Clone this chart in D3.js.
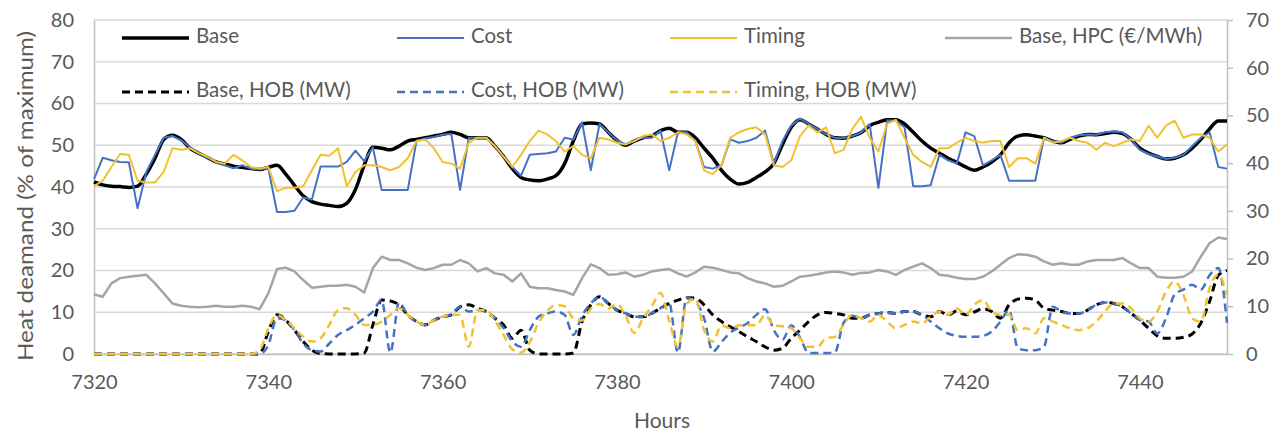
<!DOCTYPE html>
<html>
<head>
<meta charset="utf-8">
<script src="https://cdn.jsdelivr.net/npm/d3@7/dist/d3.min.js"></script>
<style>
	body { margin: 0; background: #fff; }
	text { font-family: Lato, "Open Sans", sans-serif; fill: #595959; }
</style>
</head>
<body>
<div id="chartDiv"></div>
<script>
// hours on the x axis (one value per hour, starting at firstHour)
var firstHour = 7320;
var xTicks = [7320, 7340, 7360, 7380, 7400, 7420, 7440];
var leftTicks = [0, 10, 20, 30, 40, 50, 60, 70, 80];
var rightTicks = [0, 10, 20, 30, 40, 50, 60, 70];

// heat demand, % of maximum (left axis)
var base = [41.2, 40.5, 40.2, 40.1, 39.9, 40.2, 43.1, 46.9, 51.4, 52.4,
	51.4, 49.3, 48.1, 47.1, 46.0, 45.5, 45.0, 44.7, 44.4, 44.2,
	44.7, 45.2, 43.1, 40.4, 37.9, 36.5, 35.9, 35.6, 35.3, 36.1,
	39.4, 45.2, 49.5, 49.3, 48.9, 49.8, 51.0, 51.4, 51.8, 52.2,
	52.6, 53.1, 52.6, 51.8, 51.8, 51.8, 49.8, 47.3, 44.4, 42.3,
	41.7, 41.5, 41.9, 42.7, 45.6, 51.0, 55.1, 55.3, 55.1, 53.1,
	51.2, 50.0, 51.0, 51.8, 52.2, 53.5, 54.1, 53.1, 53.1, 51.8,
	49.3, 46.9, 44.0, 41.9, 40.7, 41.1, 42.3, 43.6, 45.6, 50.2,
	54.3, 56.1, 55.1, 53.9, 52.6, 51.8, 51.7, 52.2, 53.0, 54.7,
	55.5, 56.1, 56.1, 55.1, 53.1, 51.0, 49.3, 48.1, 46.9, 45.9,
	44.8, 44.0, 44.8, 46.0, 47.7, 50.6, 52.2, 52.5, 52.2, 51.8,
	51.0, 50.6, 51.4, 52.2, 52.6, 52.5, 52.8, 53.1, 52.8, 51.4,
	49.3, 48.1, 47.3, 46.7, 46.9, 47.7, 49.3, 51.4, 53.9, 55.8, 55.8];
var cost = [41.9, 47.0, 46.4, 46.0, 45.9, 34.9, 43.6, 47.7, 51.8, 52.2,
	51.2, 49.5, 48.1, 47.0, 46.0, 45.2, 44.5, 45.2, 44.4, 44.2,
	44.5, 34.0, 34.0, 34.3, 37.5, 37.0, 44.9, 44.9, 44.9, 46.0,
	48.7, 46.2, 49.5, 39.3, 39.3, 39.3, 39.3, 51.0, 51.6, 52.0,
	52.5, 52.7, 39.3, 51.8, 51.8, 51.8, 49.8, 47.3, 44.8, 42.7,
	47.7, 47.9, 48.1, 48.5, 51.8, 51.4, 55.5, 44.0, 55.1, 53.1,
	51.2, 50.2, 51.2, 51.8, 51.8, 53.5, 44.0, 53.1, 53.1, 51.0,
	44.8, 44.4, 45.2, 51.4, 50.6, 51.0, 51.8, 53.5, 45.6, 51.0,
	54.7, 56.4, 55.1, 53.9, 52.6, 51.8, 51.7, 52.2, 53.0, 55.1,
	39.8, 55.9, 55.9, 54.3, 40.2, 40.2, 40.4, 47.7, 46.4, 45.6,
	53.1, 52.2, 45.2, 46.4, 47.7, 41.5, 41.5, 41.5, 41.5, 51.8,
	51.0, 50.6, 51.8, 52.4, 52.6, 52.5, 53.1, 53.3, 53.1, 51.4,
	48.9, 47.9, 47.3, 46.7, 47.0, 47.7, 49.8, 51.8, 53.1, 44.8, 44.4];
var timing = [40.2, 41.5, 44.8, 47.9, 47.7, 41.5, 41.1, 41.1, 43.6, 49.3,
	48.9, 49.3, 48.1, 47.3, 46.0, 45.6, 47.7, 46.4, 44.8, 44.4,
	44.8, 39.0, 39.8, 39.8, 40.2, 44.0, 47.7, 47.5, 49.3, 40.2,
	43.6, 45.2, 45.2, 44.8, 44.0, 44.8, 46.9, 51.0, 51.4, 49.3,
	46.0, 45.6, 44.4, 50.6, 51.8, 51.8, 49.8, 47.3, 44.8, 47.7,
	51.0, 53.5, 52.6, 51.0, 48.5, 49.8, 47.7, 46.9, 51.8, 51.4,
	50.6, 50.2, 51.0, 52.2, 52.6, 51.0, 51.8, 53.1, 52.6, 51.0,
	44.0, 43.1, 45.2, 51.8, 53.1, 53.9, 54.3, 52.6, 45.2, 44.8,
	46.4, 52.2, 54.7, 53.1, 54.3, 48.1, 48.9, 53.9, 56.8, 51.8,
	48.5, 55.1, 56.1, 51.8, 47.7, 46.0, 44.8, 49.3, 49.3, 50.6,
	51.8, 51.0, 50.6, 51.0, 51.0, 44.8, 46.9, 46.9, 45.6, 51.8,
	50.6, 51.0, 51.8, 51.0, 50.6, 48.9, 50.6, 49.8, 50.6, 51.4,
	51.0, 54.7, 51.8, 54.7, 55.9, 51.8, 52.6, 52.6, 51.8, 48.5, 50.2];

// heat production cost, EUR/MWh (right axis)
var baseHpc = [12.5, 12.0, 14.8, 15.9, 16.2, 16.4, 16.6, 14.8, 12.7, 10.6,
	10.1, 9.9, 9.8, 9.9, 10.1, 9.9, 9.9, 10.1, 9.9, 9.4,
	12.7, 17.8, 18.1, 17.3, 15.5, 13.9, 14.1, 14.3, 14.3, 14.5,
	14.1, 12.9, 18.0, 20.4, 19.7, 19.7, 19.0, 18.1, 17.6, 18.0,
	18.7, 18.7, 19.7, 19.0, 17.3, 18.0, 16.9, 16.6, 15.2, 16.9,
	14.1, 13.8, 13.8, 13.4, 13.1, 12.4, 15.9, 18.8, 18.0, 16.6,
	16.7, 17.1, 16.2, 16.6, 17.3, 17.6, 17.8, 16.9, 16.2, 17.1,
	18.3, 18.1, 17.6, 17.1, 16.9, 15.9, 15.2, 14.8, 14.1, 14.3,
	15.2, 16.2, 16.4, 16.7, 17.1, 17.3, 17.1, 16.6, 17.0, 17.1,
	17.6, 17.3, 16.6, 17.6, 18.3, 19.0, 18.0, 16.6, 16.4, 16.0,
	15.7, 15.7, 16.2, 17.3, 18.7, 20.1, 20.9, 20.8, 20.4, 19.4,
	18.7, 19.0, 18.7, 18.7, 19.4, 19.7, 19.7, 19.7, 20.1, 19.0,
	18.0, 18.0, 16.2, 16.0, 16.0, 16.2, 17.3, 20.4, 23.2, 24.4, 24.1];

// heat-only boiler output, MW (right axis)
var baseHob = [0, 0, 0, 0, 0, 0, 0, 0, 0, 0,
	0, 0, 0, 0, 0, 0, 0, 0, 0, 0,
	4.7, 8.2, 7.1, 5.0, 2.6, 0.8, 0.1, 0, 0, 0,
	0, 0.2, 6.1, 11.3, 11.1, 10.3, 8.2, 6.8, 6.1, 7.1,
	7.8, 8.2, 9.9, 10.3, 9.6, 8.9, 7.5, 6.1, 3.3, 5.0,
	0.8, 0, 0, 0, 0, 0.2, 6.8, 10.3, 12.0, 10.6,
	9.2, 8.5, 7.8, 7.8, 8.5, 9.6, 10.6, 11.3, 11.8, 11.7,
	10.3, 8.2, 6.8, 5.7, 4.7, 3.6, 2.6, 1.5, 0.8, 1.2,
	3.3, 5.0, 6.8, 8.2, 8.7, 8.5, 8.2, 7.5, 7.5, 8.2,
	8.5, 8.7, 8.5, 8.9, 8.9, 8.2, 7.8, 8.9, 8.2, 9.0,
	8.2, 8.8, 9.5, 8.9, 7.5, 10.3, 11.5, 11.7, 11.3, 9.6,
	9.2, 8.9, 8.5, 8.5, 9.2, 10.3, 10.8, 10.6, 9.9, 8.5,
	7.1, 5.4, 3.8, 3.3, 3.3, 3.5, 4.2, 6.5, 11.0, 16.5, 17.5];
var costHob = [0, 0, 0, 0, 0, 0, 0, 0, 0, 0,
	0, 0, 0, 0, 0, 0, 0, 0, 0, 0,
	1.9, 7.5, 7.1, 5.0, 2.2, 0.8, 0.5, 2.2, 4.0, 5.0,
	6.1, 7.5, 8.9, 11.3, 0.3, 10.8, 8.2, 6.8, 6.1, 7.1,
	7.8, 8.3, 9.9, 8.9, 9.2, 8.9, 7.5, 5.4, 2.6, 1.5,
	5.0, 7.8, 8.5, 8.9, 8.2, 4.0, 8.0, 10.6, 12.0, 10.6,
	9.2, 8.5, 7.8, 7.8, 8.5, 9.6, 10.6, 0.3, 11.8, 11.0,
	7.5, 0.5, 2.5, 4.5, 5.5, 6.5, 8.2, 9.4, 5.0, 3.0,
	6.0, 3.5, 0.2, 0.2, 0.2, 0.3, 6.5, 8.0, 7.5, 8.2,
	8.5, 8.7, 8.5, 8.9, 8.9, 8.2, 6.8, 5.4, 4.3, 3.8,
	3.6, 3.6, 3.8, 4.7, 6.8, 9.2, 1.2, 0.8, 0.8, 1.5,
	9.9, 8.9, 8.5, 8.5, 9.2, 10.3, 10.8, 10.6, 9.9, 8.5,
	7.1, 6.8, 4.3, 7.5, 12.5, 13.5, 14.5, 13.5, 16.5, 18.0, 6.5];
var timingHob = [0, 0, 0, 0, 0, 0, 0, 0, 0, 0,
	0, 0, 0, 0, 0, 0, 0, 0, 0, 0.8,
	5.4, 8.2, 7.1, 5.4, 3.6, 2.6, 3.3, 6.1, 9.2, 9.6,
	8.2, 6.1, 6.1, 6.8, 8.2, 9.6, 8.2, 6.8, 6.1, 7.1,
	7.8, 8.3, 8.2, 1.5, 9.2, 9.2, 7.0, 4.0, 1.0, 0.3,
	2.5, 6.5, 9.0, 10.3, 10.0, 7.5, 7.0, 9.5, 10.5, 9.5,
	10.5, 8.0, 4.4, 7.5, 10.0, 12.8, 7.0, 1.5, 10.5, 11.6,
	5.0, 2.6, 6.0, 5.4, 6.0, 6.0, 6.0, 8.2, 6.0, 5.8,
	5.4, 3.3, 1.5, 1.5, 3.3, 3.6, 6.1, 8.2, 7.5, 6.8,
	8.2, 6.8, 5.4, 6.1, 6.8, 6.4, 7.8, 8.9, 8.2, 9.6,
	8.2, 10.3, 11.3, 8.9, 8.2, 8.2, 5.0, 5.4, 4.3, 7.5,
	6.8, 6.1, 5.4, 5.0, 5.4, 6.8, 8.9, 10.6, 10.6, 9.6,
	7.5, 6.8, 8.9, 13.1, 15.2, 12.4, 7.5, 6.8, 13.8, 16.6, 12.4];

var width = 1276, height = 433;
var plotLeft = 94, plotRight = 1227, plotTop = 20, plotBottom = 354;

var lastHour = firstHour + base.length - 1;
var xScale = d3.scaleLinear().domain([firstHour, lastHour]).range([plotLeft, plotRight]);
var yLeft = d3.scaleLinear().domain([0, 80]).range([plotBottom, plotTop]);
var yRight = d3.scaleLinear().domain([0, 70]).range([plotBottom, plotTop]);

var svg = d3.select("#chartDiv").append("svg")
	.attr("width", width)
	.attr("height", height);

// gridlines (left axis)
svg.append("g")
	.selectAll("line")
	.data(leftTicks).enter().append("line")
	.attr("x1", plotLeft)
	.attr("x2", plotRight)
	.attr("y1", function (d) { return yLeft(d); })
	.attr("y2", function (d) { return yLeft(d); })
	.attr("stroke", "#d9d9d9")
	.attr("stroke-width", 1.5);

// left axis
var leftAxis = svg.append("g")
	.attr("transform", "translate(" + plotLeft + ",0)")
	.call(d3.axisLeft(yLeft).tickValues(leftTicks).tickSize(0).tickPadding(20));
leftAxis.select(".domain").attr("stroke", "#bfbfbf").attr("stroke-width", 1.5);
leftAxis.selectAll("text").style("font-size", "20px").attr("fill", "#595959");

// right axis
var rightAxis = svg.append("g")
	.attr("transform", "translate(" + plotRight + ",0)")
	.call(d3.axisRight(yRight).tickValues(rightTicks).tickSize(6).tickPadding(13).tickSizeOuter(0));
rightAxis.select(".domain").attr("stroke", "#bfbfbf").attr("stroke-width", 1.5);
rightAxis.selectAll("line").attr("stroke", "#bfbfbf").attr("stroke-width", 1.5);
rightAxis.selectAll("text").style("font-size", "20px").attr("fill", "#595959");

// bottom axis
var bottomAxis = svg.append("g")
	.attr("transform", "translate(0," + plotBottom + ")")
	.call(d3.axisBottom(xScale).tickValues(xTicks).tickSize(0).tickPadding(21).tickFormat(d3.format("d")));
bottomAxis.select(".domain").attr("stroke", "#bfbfbf").attr("stroke-width", 1.5);
bottomAxis.selectAll("text").style("font-size", "20px").attr("fill", "#595959");

// axis titles
svg.append("text")
	.attr("x", 662)
	.attr("y", 423)
	.attr("text-anchor", "middle")
	.attr("dominant-baseline", "middle")
	.style("font-size", "21px")
	.text("Hours");

svg.append("text")
	.attr("transform", "translate(27," + 196 + ") rotate(-90)")
	.attr("text-anchor", "middle")
	.attr("dominant-baseline", "middle")
	.attr("textLength", 330)
	.attr("lengthAdjust", "spacingAndGlyphs")
	.style("font-size", "22px")
	.text("Heat deamand (% of maximum)");

// series, drawn in legend order
var series = [
	{name: "Base", values: base, axis: yLeft, color: "#000000", width: 3.5, dash: null, curve: d3.curveMonotoneX},
	{name: "Cost", values: cost, axis: yLeft, color: "#4472c4", width: 2, dash: null, curve: d3.curveLinear},
	{name: "Timing", values: timing, axis: yLeft, color: "#f2c12e", width: 2, dash: null, curve: d3.curveLinear},
	{name: "Base, HPC (\u20ac/MWh)", values: baseHpc, axis: yRight, color: "#a5a5a5", width: 2.5, dash: null, curve: d3.curveLinear},
	{name: "Base, HOB (MW)", values: baseHob, axis: yRight, color: "#000000", width: 3, dash: "8,5", curve: d3.curveMonotoneX},
	{name: "Cost, HOB (MW)", values: costHob, axis: yRight, color: "#4472c4", width: 2.5, dash: "8,5", curve: d3.curveMonotoneX},
	{name: "Timing, HOB (MW)", values: timingHob, axis: yRight, color: "#f2c12e", width: 2.5, dash: "8,5", curve: d3.curveMonotoneX}
];

var seriesLayer = svg.append("g");
series.forEach(function (s) {
	var line = d3.line()
		.x(function (d, i) { return xScale(firstHour + i); })
		.y(function (d) { return s.axis(d); })
		.curve(s.curve);
	seriesLayer.append("path")
		.datum(s.values)
		.attr("d", line)
		.attr("fill", "none")
		.attr("stroke", s.color)
		.attr("stroke-width", s.width)
		.attr("stroke-dasharray", s.dash)
		.attr("stroke-linejoin", "round");
});

// legend, two rows inside the plot
var legendX = [122, 397, 670, 945];
var legendY = [38, 92];
var legend = svg.append("g")
	.selectAll("g")
	.data(series).enter().append("g")
	.attr("transform", function (d, i) {
		return "translate(" + legendX[i % 4] + "," + legendY[Math.floor(i / 4)] + ")";
	});
legend.append("line")
	.attr("x1", 0)
	.attr("x2", 67)
	.attr("stroke", function (d) { return d.color; })
	.attr("stroke-width", function (d) { return d.width; })
	.attr("stroke-dasharray", function (d) { return d.dash; });
legend.append("text")
	.attr("x", 74)
	.attr("dominant-baseline", "middle")
	.style("font-size", "20.5px")
	.text(function (d) { return d.name; });
</script>
</body>
</html>
